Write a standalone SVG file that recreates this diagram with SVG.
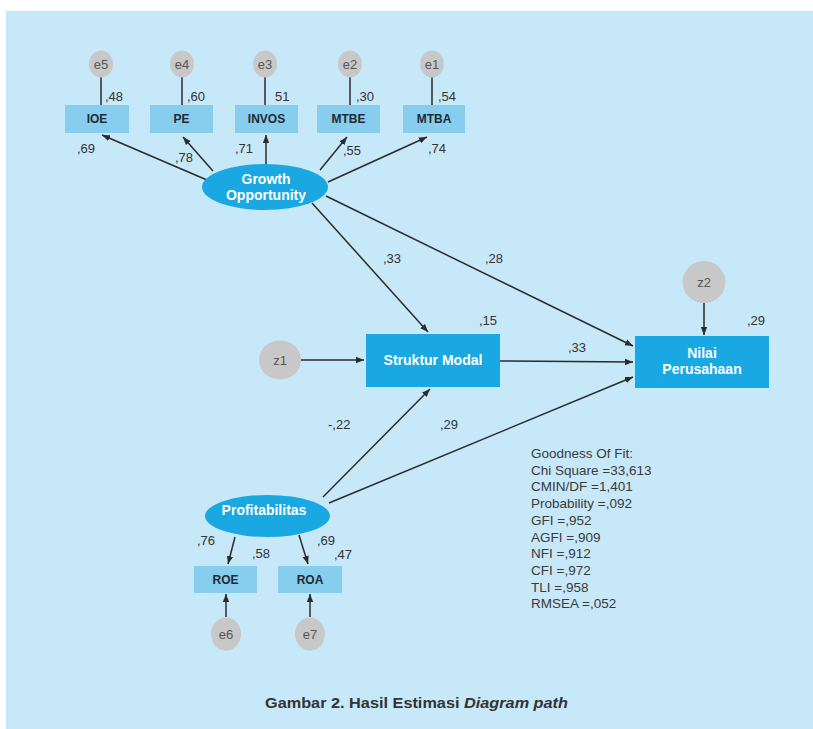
<svg xmlns="http://www.w3.org/2000/svg" width="813" height="729" viewBox="0 0 813 729">
<style>
.bg{fill:#c6e8f8}
.err{fill:#c8c8c8}
.errt{font-family:"Liberation Sans",Arial,sans-serif;font-size:13px;fill:#555;text-anchor:middle}
.ind{fill:#86cdee}
.indt{font-family:"Liberation Sans",Arial,sans-serif;font-size:12px;font-weight:bold;fill:#1f2a33;text-anchor:middle}
.lat{fill:#1aa8e2}
.latt{font-family:"Liberation Sans",Arial,sans-serif;font-size:14px;font-weight:bold;fill:#fff;text-anchor:middle}
.lbl{font-family:"Liberation Sans",Arial,sans-serif;font-size:13px;fill:#333}
.fit{font-family:"Liberation Sans",Arial,sans-serif;font-size:13.5px;fill:#3a3a3a}
.cap{font-family:"Liberation Sans",Arial,sans-serif;font-size:15px;font-weight:bold;fill:#333}
.c{stroke:#2b2b2b;stroke-width:1.5;fill:none}
.a{marker-end:url(#ah)}
</style>
<defs>
<marker id="ah" viewBox="0 0 10 10" refX="10" refY="5" markerWidth="8" markerHeight="8" orient="auto" markerUnits="userSpaceOnUse">
<path d="M0,1 L10,5 L0,9 z" fill="#2b2b2b"/>
</marker>
</defs>
<rect x="0" y="0" width="813" height="729" fill="#fff"/>
<rect class="bg" x="6" y="11" width="807" height="718"/>

<g id="connectors">
<line class="c" x1="101" y1="76" x2="101" y2="105"/>
<line class="c" x1="182" y1="76" x2="182" y2="105"/>
<line class="c" x1="265" y1="76" x2="265" y2="105"/>
<line class="c" x1="350" y1="76" x2="350" y2="105"/>
<line class="c" x1="432" y1="76" x2="432" y2="105"/>
<line class="c a" x1="207" y1="180" x2="102" y2="135"/>
<line class="c a" x1="213" y1="171" x2="183" y2="137"/>
<line class="c a" x1="266" y1="164" x2="266" y2="135"/>
<line class="c a" x1="320" y1="170" x2="347" y2="137"/>
<line class="c a" x1="328" y1="182" x2="427" y2="137"/>
<line class="c a" x1="312" y1="203" x2="428" y2="332"/>
<line class="c a" x1="326" y1="196" x2="633" y2="346"/>
<line class="c a" x1="301" y1="360" x2="364" y2="360"/>
<line class="c a" x1="500" y1="361" x2="633" y2="362"/>
<line class="c a" x1="704" y1="303" x2="704" y2="335"/>
<line class="c a" x1="323" y1="497" x2="430" y2="389"/>
<line class="c a" x1="329" y1="503" x2="633" y2="377"/>
<line class="c a" x1="235" y1="537" x2="228" y2="564"/>
<line class="c a" x1="299" y1="535" x2="308" y2="564"/>
<line class="c a" x1="226" y1="617" x2="226" y2="594"/>
<line class="c a" x1="310" y1="617" x2="310" y2="594"/>
</g>

<g id="e5"><ellipse class="err" cx="101" cy="64" rx="12" ry="13.5"/><text class="errt" x="101" y="69">e5</text></g>
<g id="e4"><ellipse class="err" cx="182" cy="64" rx="12" ry="13.5"/><text class="errt" x="182" y="69">e4</text></g>
<g id="e3"><ellipse class="err" cx="265" cy="64" rx="12" ry="13.5"/><text class="errt" x="265" y="69">e3</text></g>
<g id="e2"><ellipse class="err" cx="350" cy="64" rx="12" ry="13.5"/><text class="errt" x="350" y="69">e2</text></g>
<g id="e1"><ellipse class="err" cx="432" cy="64" rx="12" ry="13.5"/><text class="errt" x="432" y="69">e1</text></g>

<g id="IOE"><rect class="ind" x="65" y="105" width="64" height="28"/><text class="indt" x="97" y="123">IOE</text></g>
<g id="PE"><rect class="ind" x="150" y="105" width="63" height="28"/><text class="indt" x="181.5" y="123">PE</text></g>
<g id="INVOS"><rect class="ind" x="235" y="105" width="63" height="28"/><text class="indt" x="266.5" y="123">INVOS</text></g>
<g id="MTBE"><rect class="ind" x="317" y="105" width="63" height="28"/><text class="indt" x="348.5" y="123">MTBE</text></g>
<g id="MTBA"><rect class="ind" x="403" y="105" width="62" height="28"/><text class="indt" x="434" y="123">MTBA</text></g>

<g id="growth"><ellipse class="lat" cx="265" cy="187" rx="63" ry="23"/><text class="latt" x="266" y="184">Growth</text><text class="latt" x="266" y="200">Opportunity</text></g>

<g id="z1"><ellipse class="err" cx="280" cy="360" rx="21" ry="19.5"/><text class="errt" x="280" y="365">z1</text></g>
<g id="struktur"><rect class="lat" x="366" y="334" width="134" height="53"/><text class="latt" x="433" y="365">Struktur Modal</text></g>
<g id="z2"><ellipse class="err" cx="704" cy="282" rx="21.5" ry="21"/><text class="errt" x="704" y="287">z2</text></g>
<g id="nilai"><rect class="lat" x="635" y="336" width="134" height="52"/><text class="latt" x="702" y="358">Nilai</text><text class="latt" x="702" y="374">Perusahaan</text></g>

<g id="profit"><ellipse class="lat" cx="267.5" cy="516" rx="62.5" ry="21"/><text class="latt" x="264" y="515">Profitabilitas</text></g>
<g id="ROE"><rect class="ind" x="194" y="566" width="63" height="27"/><text class="indt" x="225.5" y="584">ROE</text></g>
<g id="ROA"><rect class="ind" x="278" y="566" width="64" height="27"/><text class="indt" x="310" y="584">ROA</text></g>
<g id="e6"><ellipse class="err" cx="226" cy="634" rx="15" ry="16.5"/><text class="errt" x="226" y="639">e6</text></g>
<g id="e7"><ellipse class="err" cx="310" cy="634" rx="15" ry="16.5"/><text class="errt" x="310" y="639">e7</text></g>

<g id="labels">
<text class="lbl" x="105" y="101">,48</text>
<text class="lbl" x="187" y="101">,60</text>
<text class="lbl" x="275" y="101">51</text>
<text class="lbl" x="356" y="101">,30</text>
<text class="lbl" x="438" y="101">,54</text>
<text class="lbl" x="77" y="153">,69</text>
<text class="lbl" x="175" y="162">,78</text>
<text class="lbl" x="235" y="153">,71</text>
<text class="lbl" x="343" y="155">,55</text>
<text class="lbl" x="428" y="153">,74</text>
<text class="lbl" x="383" y="263">,33</text>
<text class="lbl" x="485" y="263">,28</text>
<text class="lbl" x="479" y="325">,15</text>
<text class="lbl" x="568" y="352">,33</text>
<text class="lbl" x="747" y="325">,29</text>
<text class="lbl" x="328" y="429">-,22</text>
<text class="lbl" x="440" y="429">,29</text>
<text class="lbl" x="197" y="545">,76</text>
<text class="lbl" x="252" y="558">,58</text>
<text class="lbl" x="317" y="545">,69</text>
<text class="lbl" x="334" y="559">,47</text>
</g>

<g id="fit">
<text class="fit" x="531" y="458">Goodness Of Fit:</text>
<text class="fit" x="531" y="474.7">Chi Square =33,613</text>
<text class="fit" x="531" y="491.4">CMIN/DF =1,401</text>
<text class="fit" x="531" y="508.1">Probability =,092</text>
<text class="fit" x="531" y="524.8">GFI =,952</text>
<text class="fit" x="531" y="541.5">AGFI =,909</text>
<text class="fit" x="531" y="558.2">NFI =,912</text>
<text class="fit" x="531" y="574.9">CFI =,972</text>
<text class="fit" x="531" y="591.6">TLI =,958</text>
<text class="fit" x="531" y="608.3">RMSEA =,052</text>
</g>

<text class="cap" x="265" y="708" textLength="303" lengthAdjust="spacingAndGlyphs">Gambar 2. Hasil Estimasi <tspan font-style="italic">Diagram path</tspan></text>
</svg>
